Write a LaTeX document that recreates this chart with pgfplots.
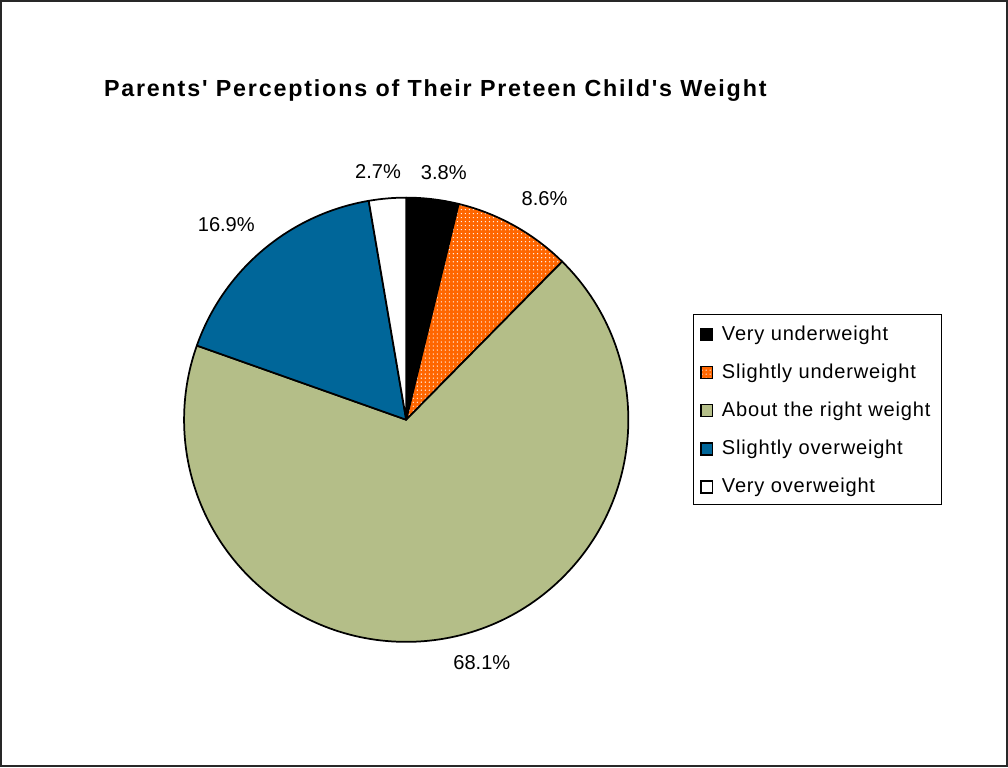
\documentclass[border=0pt]{standalone}
\usepackage{fontspec}
\setmainfont{Liberation Sans}
\newfontfamily\titlefamily[LetterSpace=7.8]{Liberation Sans}
\newfontfamily\legendfamily[LetterSpace=4]{Liberation Sans}
\usepackage{pgfplots}
\usepackage{pgfplotstable}
\pgfplotsset{compat=1.18}
\usetikzlibrary{patterns}

\definecolor{sunder}{RGB}{255,102,0}
\definecolor{rightw}{RGB}{180,190,136}
\definecolor{sover}{RGB}{0,102,153}
\definecolor{frame}{RGB}{40,40,40}

% share of answers, label angle tweak (deg) and label distance (px)
\pgfplotstableread[col sep=comma]{
name,value,ladj,lr
Very underweight,3.8,-1.8,249.6
Slightly underweight,8.6,-2.9,260.1
About the right weight,68.1,4.35,253.5
Slightly overweight,16.9,2.5,265
Very overweight,2.7,1.6,249.1
}\piedata

% total of all shares
\gdef\total{0}
\pgfplotstableforeachcolumnelement{value}\of\piedata\as\cell{%
  \pgfmathparse{\total+\cell}\xdef\total{\pgfmathresult}}

\newcommand\labelfont{\fontsize{15}{18}\selectfont}
\newcommand\legendfont{\legendfamily\fontsize{15}{18}\selectfont}
\def\pieR{166.1pt}

\tikzset{
  slice0/.style={fill=black},
  slice1/.style={preaction={fill=sunder}, pattern=dots, pattern color=white},
  slice2/.style={fill=rightw},
  slice3/.style={fill=sover},
  slice4/.style={fill=white},
}

\begin{document}
\begin{tikzpicture}
\begin{axis}[
  x=0.75pt, y=0.75pt,
  xmin=0, xmax=1008, ymin=0, ymax=769,
  scale only axis, axis lines=none, clip=false,
]
% outer frame
\draw[frame, line width=1.5pt] (axis cs:3.5,3) rectangle (axis cs:1006.5,766);
% title
\node[anchor=base, font=\titlefamily\bfseries\fontsize{17.4}{20}\selectfont]
  at (axis cs:436.5,670.7) {Parents' Perceptions of Their Preteen Child's Weight};
% legend box
\draw[black, line width=0.8pt] (axis cs:693.5,453.5) rectangle (axis cs:941.5,264);

\def\angstart{90}
\pgfplotsforeachungrouped \i in {0,...,4}{%
  \pgfplotstablegetelem{\i}{value}\of\piedata \let\val\pgfplotsretval
  \pgfplotstablegetelem{\i}{ladj}\of\piedata \let\ladj\pgfplotsretval
  \pgfplotstablegetelem{\i}{lr}\of\piedata \let\lr\pgfplotsretval
  \pgfplotstablegetelem{\i}{name}\of\piedata \let\nm\pgfplotsretval
  \pgfmathsetmacro\sweep{\val/\total*360}
  \pgfmathsetmacro\angend{\angstart-\sweep}
  \pgfmathsetmacro\angmid{\angstart-\sweep/2+\ladj}
  \pgfmathsetmacro\lx{407.5+\lr*cos(\angmid)}
  \pgfmathsetmacro\ly{348.5+\lr*sin(\angmid)}
  \pgfmathsetmacro\eb{427.5-38*\i}
  \pgfmathsetmacro\et{\eb+12}
  \edef\doslice{%
    \noexpand\draw[slice\i, draw=black, line width=1.3pt, line join=round]
      (axis cs:407.5,348.5) -- ++(\angstart:\pieR)
      arc[start angle=\angstart, end angle=\angend, radius=\pieR] -- cycle;
    \noexpand\node[font=\noexpand\labelfont] at (axis cs:\lx,\ly) {\val\noexpand\%};
    \noexpand\draw[slice\i, draw=black, line width=1.1pt]
      (axis cs:701.5,\eb) rectangle (axis cs:713,\et);
    \noexpand\node[anchor=base west, inner sep=0pt, font=\noexpand\legendfont]
      at (axis cs:722,\eb) {\nm};
  }\doslice
  \let\angstart\angend
}
\end{axis}
\end{tikzpicture}
\end{document}
